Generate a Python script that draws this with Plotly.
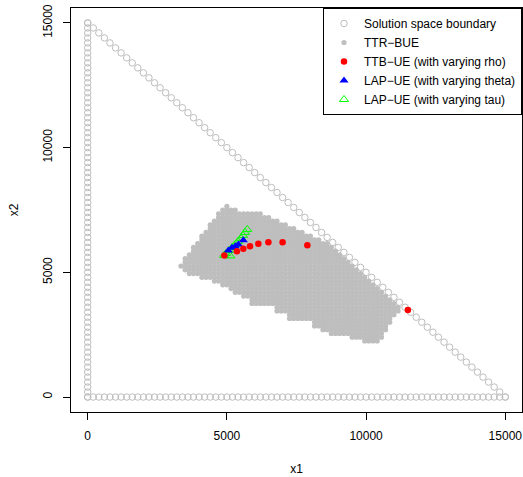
import plotly.graph_objects as go

# ---------------- data ----------------
# Solution space boundary: triangle x1 >= 0, x2 >= 0, x1 + x2 <= 15000, sampled every 200
boundary_total = 15000
boundary_step = 200
boundary_ticks = list(range(0, boundary_total + 1, boundary_step))

# TTR-BUE feasible grid (step 150): per row y value and the x-extent of the dots in that row
ttr_step = 150
ttr_row_y = [7650, 7500, 7350, 7200, 7050, 6900, 6750, 6600, 6450, 6300, 6150, 6000,
             5850, 5700, 5550, 5400, 5250, 5100, 4950, 4800, 4650, 4500, 4350, 4200,
             4050, 3900, 3750, 3600, 3450, 3300, 3150, 3000, 2850, 2700, 2550, 2400, 2250]
ttr_row_xmin = [5000, 4850, 4700, 4700, 4550, 4400, 4400, 4250, 4100, 4100, 3950, 3800,
                3800, 3650, 3500, 3500, 3350, 3500, 3650, 4100, 4550, 4850, 5150, 5300,
                5600, 5900, 5900, 6800, 6800, 7250, 7250, 8150, 8150, 8450, 8750, 9500, 9950]
ttr_row_xmax = [5000, 5300, 6200, 6500, 6800, 7100, 7400, 7700, 8000, 8300, 8600, 8750,
                8900, 9050, 9200, 9350, 9500, 9650, 9800, 9950, 10100, 10250, 10400, 10550,
                10700, 10850, 11000, 11150, 11150, 11000, 10850, 10850, 10700, 10700, 10550, 10550, 10400]

# TTB-UE (with varying rho)
ttb_x1 = [4910, 5360, 5590, 5830, 6130, 6490, 7000, 7890, 11500]
ttb_x2 = [5680, 5850, 5950, 6050, 6150, 6210, 6210, 6090, 3490]

# LAP-UE (with varying theta)
lap_theta_x1 = [5050, 5180, 5300, 5410, 5590]
lap_theta_x2 = [5880, 5990, 6050, 6120, 6290]

# LAP-UE (with varying tau)
lap_tau_x1 = [4900, 4970, 5080, 5120, 5190, 5300, 5400, 5510, 5580, 5650, 5730]
lap_tau_x2 = [5680, 5760, 5880, 5660, 6000, 6120, 6240, 6360, 6480, 6600, 6720]

x_ticks = [0, 5000, 10000, 15000]
y_ticks = [0, 5000, 10000, 15000]

# ---------------- build point sets ----------------
bx, by = [], []
for v in boundary_ticks:          # left edge
    bx.append(0); by.append(v)
for v in boundary_ticks:          # bottom edge
    bx.append(v); by.append(0)
for v in boundary_ticks:          # hypotenuse
    bx.append(v); by.append(boundary_total - v)

gx, gy = [], []
for y, x0, x1 in zip(ttr_row_y, ttr_row_xmin, ttr_row_xmax):
    x = x0
    while x <= x1:
        gx.append(x); gy.append(y)
        x += ttr_step

GREY = "#BEBEBE"
FONT = "Liberation Sans, Arial, Helvetica, sans-serif"

fig = go.Figure()
fig.add_trace(go.Scatter(x=bx, y=by, mode="markers", name="Solution space boundary",
                         legendrank=1,
                         marker=dict(symbol="circle-open", size=6.5, color=GREY,
                                     line=dict(width=1, color=GREY))))
fig.add_trace(go.Scatter(x=gx, y=gy, mode="markers", name="TTR\u2212BUE",
                         legendrank=2,
                         marker=dict(symbol="circle", size=5.2, color=GREY,
                                     line=dict(width=0))))
fig.add_trace(go.Scatter(x=lap_tau_x1, y=lap_tau_x2, mode="markers",
                         name="LAP\u2212UE (with varying tau)", legendrank=5,
                         marker=dict(symbol="triangle-up-open", size=8, color="#00FF00",
                                     line=dict(width=1, color="#00FF00"))))
fig.add_trace(go.Scatter(x=lap_theta_x1, y=lap_theta_x2, mode="markers",
                         name="LAP\u2212UE (with varying theta)", legendrank=4,
                         marker=dict(symbol="triangle-up", size=8, color="#0000FF",
                                     line=dict(width=0))))
fig.add_trace(go.Scatter(x=ttb_x1, y=ttb_x2, mode="markers",
                         name="TTB\u2212UE (with varying rho)", legendrank=3,
                         marker=dict(symbol="circle", size=6.5, color="#FF0000",
                                     line=dict(width=0))))

axis_common = dict(
    showgrid=False, zeroline=False, showline=True, mirror=True,
    linecolor="black", linewidth=1,
    ticks="outside", ticklen=7, tickwidth=1, tickcolor="black",
    tickfont=dict(family=FONT, size=12, color="black"),
    range=[-600, 15600], automargin=False,
)

fig.update_layout(
    width=523, height=477,
    margin=dict(l=71, r=1, t=8, b=65),
    paper_bgcolor="white", plot_bgcolor="white",
    font=dict(family=FONT, size=12, color="black"),
    xaxis=dict(**axis_common, tickvals=x_ticks, ticktext=[str(v) for v in x_ticks],
               ticklabelstandoff=6,
               title=dict(text="x1", font=dict(family=FONT, size=12), standoff=22)),
    yaxis=dict(**axis_common, tickvals=y_ticks, ticktext=[str(v) for v in y_ticks],
               tickangle=-90, ticklabelstandoff=6,
               title=dict(text="x2", font=dict(family=FONT, size=12), standoff=20)),
    legend=dict(x=1, y=1, xanchor="right", yanchor="top",
                bgcolor="white", bordercolor="black", borderwidth=1,
                font=dict(family=FONT, size=12, color="black"),
                itemwidth=30, tracegroupgap=0, traceorder="normal"),
    showlegend=True,
)

fig.write_html("out.html",
               config={"displayModeBar": False},
               post_script="document.body.style.margin='0px';document.body.style.padding='0px';")
